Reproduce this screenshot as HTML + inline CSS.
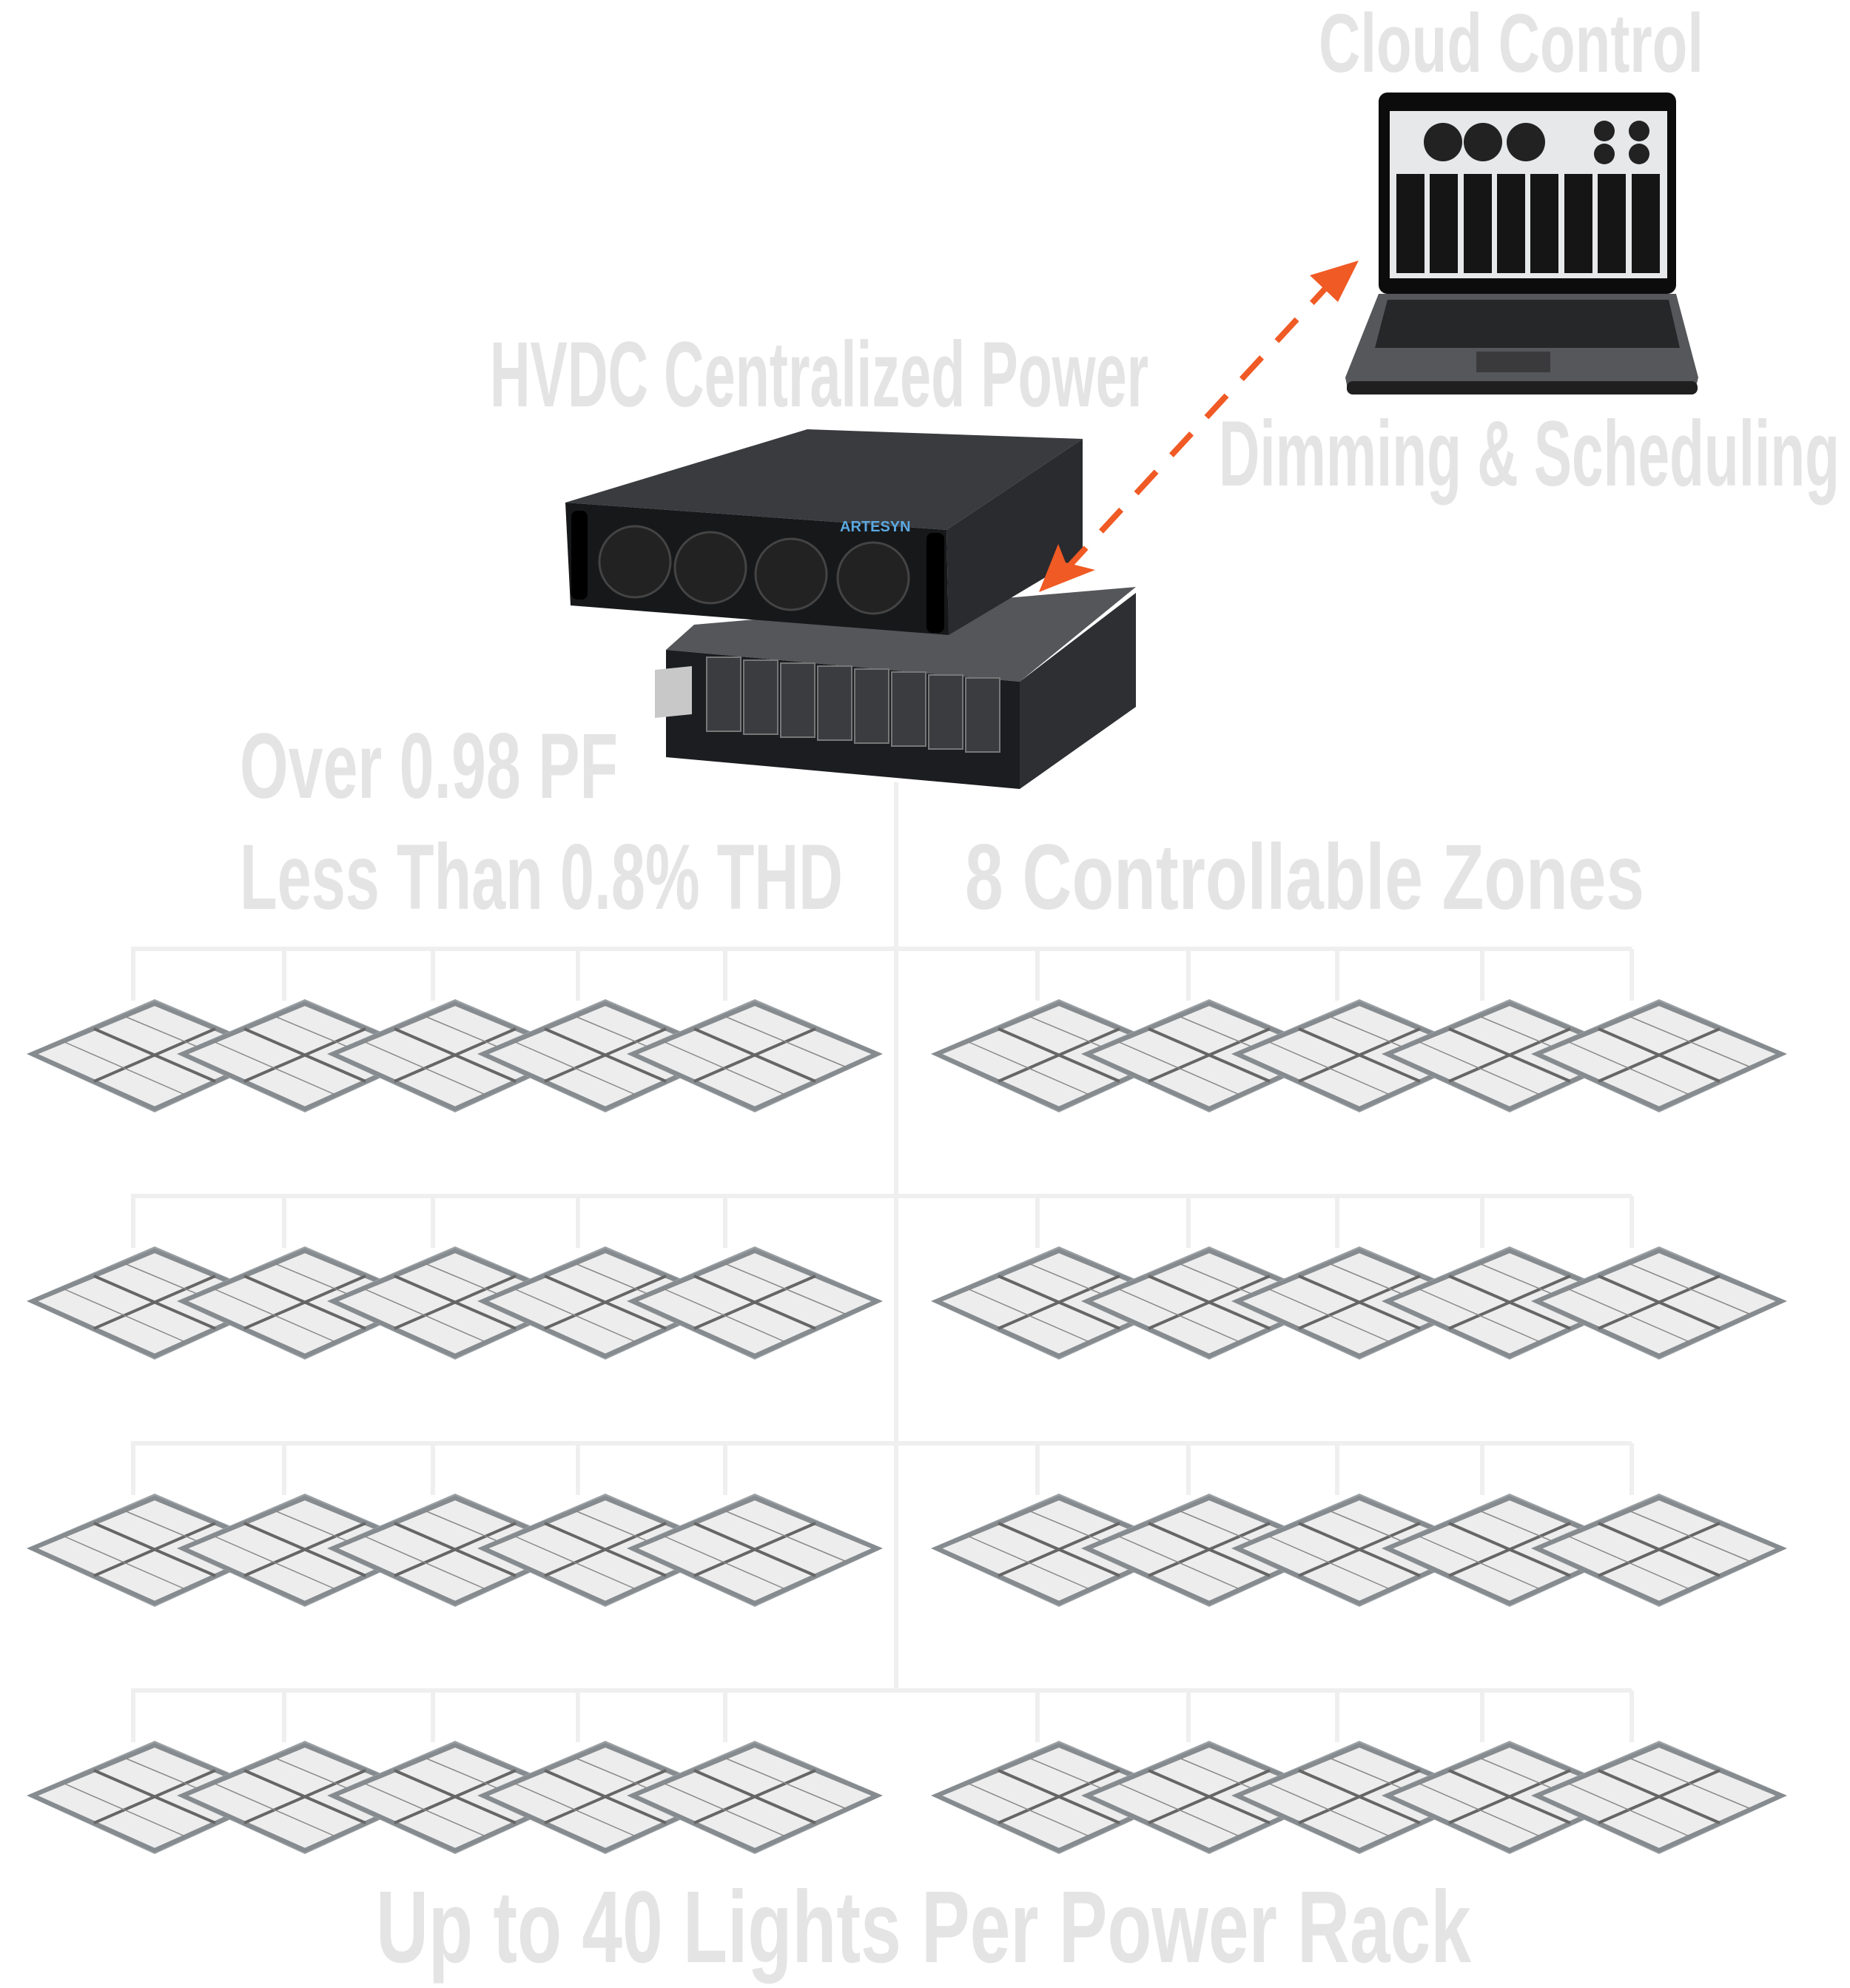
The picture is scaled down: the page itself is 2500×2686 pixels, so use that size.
<!DOCTYPE html>
<html><head><meta charset="utf-8"><style>
html,body{margin:0;padding:0;background:#fff}
svg{display:block}
.t{font-family:"Liberation Sans Narrow","Liberation Sans",sans-serif;font-weight:bold;fill:#e4e4e4}
</style></head><body>
<svg width="2500" height="2686" viewBox="0 0 2500 2686" xmlns="http://www.w3.org/2000/svg">
<defs>
<g id="p">
<polygon points="0,2 173,76 0,155 -173,76" fill="#9aa0a4"/>
<polygon points="0,8 165,76 0,150 -165,76" fill="#ededed" stroke="#868b8f" stroke-width="6"/>
<line x1="-82" y1="42" x2="82" y2="113" stroke="#666" stroke-width="4"/>
<line x1="82" y1="42" x2="-82" y2="113" stroke="#666" stroke-width="4"/>
<line x1="-41" y1="25" x2="124" y2="94" stroke="#888" stroke-width="1.5"/>
<line x1="-124" y1="59" x2="41" y2="131" stroke="#888" stroke-width="1.5"/>
</g>
<g id="row">
<use href="#p" x="209"/><use href="#p" x="412"/><use href="#p" x="615"/><use href="#p" x="818"/><use href="#p" x="1020"/>
<use href="#p" x="1431"/><use href="#p" x="1634"/><use href="#p" x="1837"/><use href="#p" x="2040"/><use href="#p" x="2242"/>
</g>
<g id="drops" stroke="#efefef" stroke-width="6">
<line x1="177" y1="0" x2="2205" y2="0"/>
<line x1="180" y1="0" x2="180" y2="70"/><line x1="384" y1="0" x2="384" y2="70"/><line x1="585" y1="0" x2="585" y2="70"/><line x1="781" y1="0" x2="781" y2="70"/><line x1="980" y1="0" x2="980" y2="70"/>
<line x1="1402" y1="0" x2="1402" y2="70"/><line x1="1606" y1="0" x2="1606" y2="70"/><line x1="1807" y1="0" x2="1807" y2="70"/><line x1="2003" y1="0" x2="2003" y2="70"/><line x1="2205" y1="0" x2="2205" y2="70"/>
</g>
</defs>

<line x1="1211" y1="1057" x2="1211" y2="2283" stroke="#efefef" stroke-width="6"/>
<use href="#drops" y="1282"/><use href="#drops" y="1616"/><use href="#drops" y="1950"/><use href="#drops" y="2284"/>
<use href="#row" y="1348"/><use href="#row" y="1682"/><use href="#row" y="2016"/><use href="#row" y="2350"/>

<text class="t" x="1782" y="97" font-size="112" textLength="520" lengthAdjust="spacingAndGlyphs">Cloud  Control</text>
<text class="t" x="662" y="549" font-size="125" textLength="890" lengthAdjust="spacingAndGlyphs">HVDC Centralized Power</text>
<text class="t" x="1647" y="656" font-size="125" textLength="839" lengthAdjust="spacingAndGlyphs">Dimming &amp; Scheduling</text>
<text class="t" x="324" y="1078" font-size="125" textLength="511" lengthAdjust="spacingAndGlyphs">Over 0.98 PF</text>
<text class="t" x="324" y="1228" font-size="125" textLength="815" lengthAdjust="spacingAndGlyphs">Less Than 0.8% THD</text>
<text class="t" x="1304" y="1228" font-size="125" textLength="918" lengthAdjust="spacingAndGlyphs">8 Controllable Zones</text>
<text class="t" x="508" y="2651" font-size="138" textLength="1480" lengthAdjust="spacingAndGlyphs">Up to 40 Lights Per Power Rack</text>

<polygon points="938,844 1535,793 1378,921 900,878" fill="#55565a"/>
<polygon points="1378,921 1535,801 1535,955 1378,1066" fill="#2e2f33"/>
<polygon points="900,878 1378,921 1378,1066 900,1023" fill="#1c1d20"/>
<g fill="#3a3c40" stroke="#777" stroke-width="2">
<rect x="955" y="888" width="46" height="100"/><rect x="1005" y="892" width="46" height="100"/><rect x="1055" y="896" width="46" height="100"/><rect x="1105" y="900" width="46" height="100"/><rect x="1155" y="904" width="46" height="100"/><rect x="1205" y="908" width="46" height="100"/><rect x="1255" y="912" width="46" height="100"/><rect x="1305" y="916" width="46" height="100"/>
</g>
<polygon points="885,905 935,900 935,965 885,970" fill="#c8c8c8"/>
<polygon points="764,679 1091,580 1463,593 1279,716" fill="#3a3b3f"/>
<polygon points="1279,716 1463,593 1463,750 1282,858" fill="#2a2b2e"/>
<polygon points="764,679 1279,716 1282,858 771,818" fill="#17181a"/>
<rect x="772" y="690" width="22" height="120" rx="8" fill="#000"/>
<rect x="1252" y="720" width="24" height="135" rx="8" fill="#000"/>
<g fill="#222" stroke="#444" stroke-width="3">
<circle cx="858" cy="759" r="48"/><circle cx="960" cy="767" r="48"/><circle cx="1069" cy="776" r="48"/><circle cx="1180" cy="781" r="48"/>
</g>
<text x="1135" y="718" font-family="Liberation Sans" font-weight="bold" font-size="20" fill="#5aa8e0">ARTESYN</text>

<line x1="1800" y1="380" x2="1440" y2="770" stroke="#f05a24" stroke-width="8" stroke-dasharray="40,30"/>
<polygon points="1836,352 1770,372 1808,408" fill="#f05a24"/>
<polygon points="1404,800 1430,735 1440,760 1480,770" fill="#f05a24"/>

<polygon points="1863,397 2265,397 2295,510 2290,530 1822,530 1818,510" fill="#55575a"/>
<polygon points="1875,405 2255,405 2270,470 1858,470" fill="#262729"/>
<rect x="1995" y="475" width="100" height="28" fill="#3a3a3c"/>
<rect x="1820" y="515" width="474" height="18" rx="8" fill="#1f1f20"/>
<rect x="1863" y="125" width="402" height="272" rx="12" fill="#0c0c0c"/>
<rect x="1878" y="150" width="375" height="226" fill="#e6e8ea"/>
<g fill="#222"><circle cx="1950" cy="192" r="26"/><circle cx="2004" cy="192" r="26"/><circle cx="2062" cy="192" r="26"/>
<circle cx="2168" cy="177" r="14"/><circle cx="2215" cy="177" r="14"/><circle cx="2168" cy="208" r="14"/><circle cx="2215" cy="208" r="14"/></g>
<g fill="#151515"><rect x="1887" y="235" width="38" height="134"/><rect x="1932" y="235" width="38" height="134"/><rect x="1978" y="235" width="38" height="134"/><rect x="2023" y="235" width="38" height="134"/><rect x="2068" y="235" width="38" height="134"/><rect x="2114" y="235" width="38" height="134"/><rect x="2159" y="235" width="38" height="134"/><rect x="2205" y="235" width="38" height="134"/></g>
</svg>
</body></html>
